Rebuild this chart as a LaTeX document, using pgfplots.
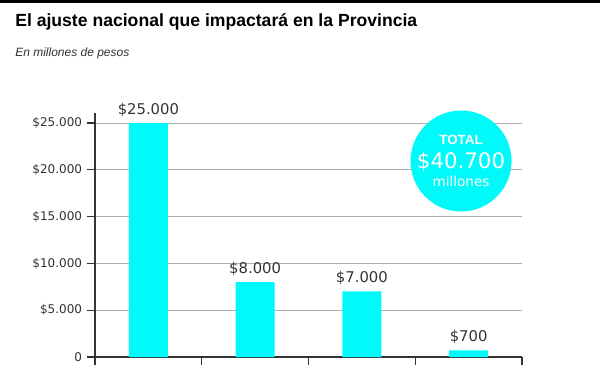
\documentclass[border=0pt]{standalone}
\usepackage{pgfplots}
\pgfplotsset{compat=1.18}
\usepackage{fontspec}
\setmainfont{DejaVu Sans}
\newfontfamily\lib{Liberation Sans}
\newfontfamily\dv{DejaVu Sans}
\definecolor{barcyan}{RGB}{0,250,250}
\definecolor{txt}{RGB}{51,51,51}
\definecolor{gridc}{RGB}{175,175,175}
\begin{document}
\begin{tikzpicture}
\useasboundingbox (0,0) rectangle (450pt,273.75pt);
\fill[white] (0,0) rectangle (450pt,273.75pt);
\draw[black, line width=1.9pt] (0,272.8pt) -- (450pt,272.8pt);
\node[anchor=base west, inner sep=0pt, font={\lib\bfseries\fontsize{13.2}{15}\selectfont}, text=black] at (11.25pt,253.5pt) {El ajuste nacional que impactará en la Provincia};
\node[anchor=base west, inner sep=0pt, font={\lib\itshape\fontsize{9}{10}\selectfont}, text=txt] at (11.25pt,231pt) {En millones de pesos};
\begin{axis}[
  at={(71.25pt,6pt)}, anchor=south west,
  scale only axis, width=320.25pt, height=183pt,
  xmin=-0.5, xmax=3.5, ymin=0, ymax=26070,
  scaled y ticks=false,
  axis x line=bottom, axis y line=left,
  axis line style={-, txt, line width=0.8pt},
  xtick={-0.5,0.5,1.5,2.5,3.5}, xticklabels={},
  ytick={0,5000,10000,15000,20000,25000},
  yticklabels={0,\$5.000,\$10.000,\$15.000,\$20.000,\$25.000},
  yticklabel style={font={\dv\fontsize{9}{10}\selectfont}, text=txt, inner sep=0pt, xshift=-3.5pt},
  tick align=outside, major tick length=6pt,
  tick style={txt, line width=0.9pt},
  ymajorgrids, grid style={gridc, line width=0.75pt},
  clip=false,
  ybar, bar width=29.25pt,
  point meta=explicit symbolic,
  nodes near coords,
  every node near coord/.append style={anchor=base, yshift=6.5pt, font={\dv\fontsize{11.1}{13}\selectfont}, text=txt, inner sep=0pt},
]
\addplot[fill=barcyan, draw=none] coordinates {
  (0,25000) [\$25.000]
  (1,8000) [\$8.000]
  (2,7000) [\$7.000]
  (3,700) [\$700]
};
\node[circle, fill=barcyan, minimum size=75.75pt, inner sep=0pt] (c) at (axis cs:2.929,20941) {};
\node[text=white, font={\lib\bfseries\fontsize{10}{11}\selectfont}, inner sep=0pt] at ([yshift=15.5pt]c.center) {TOTAL};
\node[text=white, font={\dv\fontsize{16}{18}\selectfont}, inner sep=0pt, anchor=base] at ([yshift=-5.5pt]c.center) {\$40.700};
\node[text=white, font={\dv\fontsize{10.2}{12}\selectfont}, inner sep=0pt] at ([yshift=-15.5pt]c.center) {millones};
\end{axis}
\end{tikzpicture}
\end{document}
